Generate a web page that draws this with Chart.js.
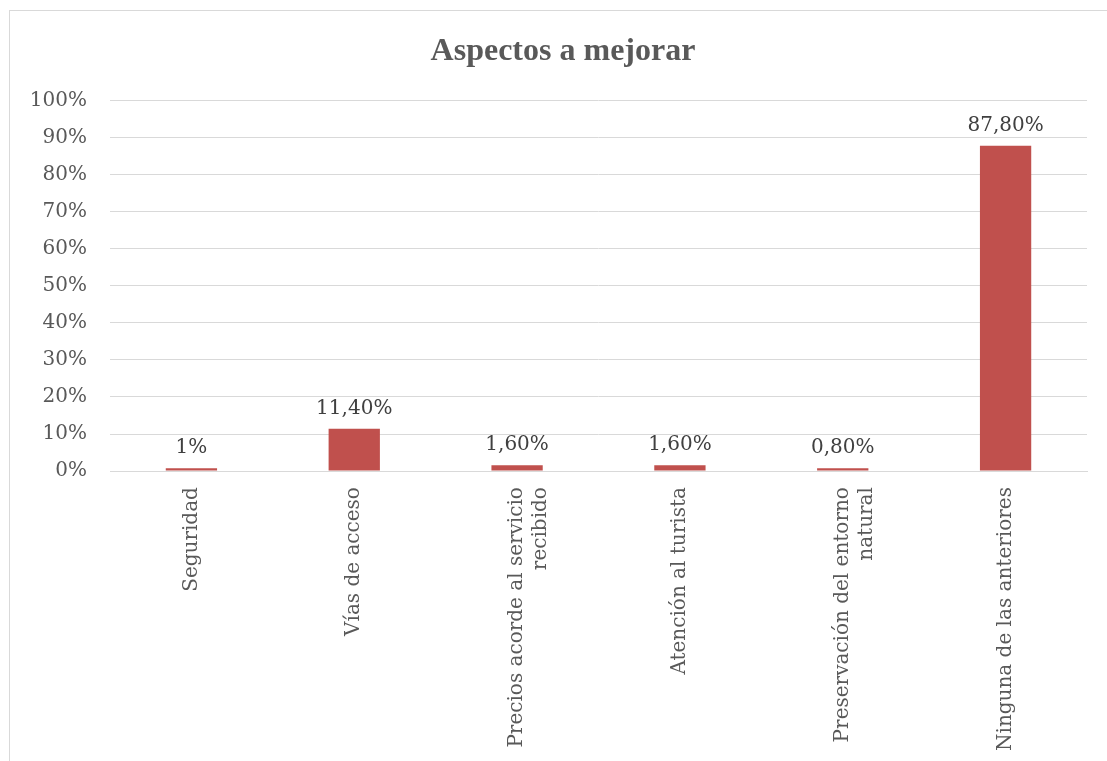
<!DOCTYPE html>
<html>
<head>
<meta charset="utf-8">
<script src="https://cdn.jsdelivr.net/npm/chart.js@4/dist/chart.umd.min.js"></script>
<style>
  html, body { margin: 0; padding: 0; background: #ffffff; overflow: hidden; width: 1107px; height: 761px; }
  #box { position: absolute; left: 9px; top: 10px; width: 1108px; height: 770px; border: 1px solid #d9d9d9; box-sizing: border-box; }
  #wrap { position: absolute; left: 0; top: 0; width: 1106px; height: 760px; }
</style>
</head>
<body>
<div id="box"><div id="wrap"><canvas id="c"></canvas></div></div>
<script>
const categories = [
  "Seguridad",
  "Vías de acceso",
  ["Precios acorde al servicio", "recibido"],
  "Atención al turista",
  ["Preservación del entorno", "natural"],
  "Ninguna de las anteriores"
];
const values = [0.008, 0.114, 0.016, 0.016, 0.008, 0.878];
const valueLabels = ["1%", "11,40%", "1,60%", "1,60%", "0,80%", "87,80%"];
const yTicks = [0, 0.1, 0.2, 0.3, 0.4, 0.5, 0.6, 0.7, 0.8, 0.9, 1.0];

const FONT = "'DejaVu Serif', serif";

const valueLabelPlugin = {
  id: 'valueLabels',
  afterDatasetsDraw(chart) {
    const ctx = chart.ctx;
    const meta = chart.getDatasetMeta(0);
    ctx.save();
    ctx.font = "20px " + FONT;
    ctx.fillStyle = "#404040";
    ctx.textAlign = "center";
    ctx.textBaseline = "bottom";
    meta.data.forEach((bar, i) => {
      ctx.fillText(valueLabels[i], bar.x, bar.y - 10);
    });
    ctx.restore();
  }
};

new Chart(document.getElementById('c'), {
  type: 'bar',
  data: {
    labels: categories,
    datasets: [{
      data: values,
      backgroundColor: '#c0504d',
      borderWidth: 0,
      barPercentage: 0.63,
      categoryPercentage: 0.5
    }]
  },
  options: {
    responsive: true,
    maintainAspectRatio: false,
    animation: false,
    layout: { padding: { left: 18, right: 18, top: 0, bottom: 4 } },
    plugins: {
      legend: { display: false },
      tooltip: { enabled: false },
      title: {
        display: true,
        text: 'Aspectos a mejorar',
        color: '#595959',
        font: { family: "'Liberation Serif', serif", size: 32, weight: 'bold' },
        padding: { top: 22, bottom: 29 }
      }
    },
    scales: {
      x: {
        grid: { display: false, drawTicks: false },
        border: { display: true, color: '#d9d9d9', width: 1 },
        ticks: {
          color: '#595959',
          font: { family: FONT, size: 20 },
          minRotation: 90,
          maxRotation: 90,
          autoSkip: false,
          padding: 16
        }
      },
      y: {
        min: 0,
        max: 1,
        afterBuildTicks(axis) { axis.ticks = yTicks.map(v => ({ value: v })); },
        afterFit(axis) { axis.width = 82; },
        grid: { color: '#d9d9d9', drawTicks: false, lineWidth: 1 },
        border: { display: false },
        ticks: {
          color: '#595959',
          font: { family: FONT, size: 20 },
          padding: 23,
          callback: v => Math.round(v * 100) + '%'
        }
      },
      yRight: {
        position: 'right',
        min: 0,
        max: 1,
        afterFit(axis) { axis.width = 11; },
        grid: { display: false, drawTicks: false },
        border: { display: false },
        ticks: { display: false }
      }
    }
  },
  plugins: [valueLabelPlugin]
});
</script>
</body>
</html>
